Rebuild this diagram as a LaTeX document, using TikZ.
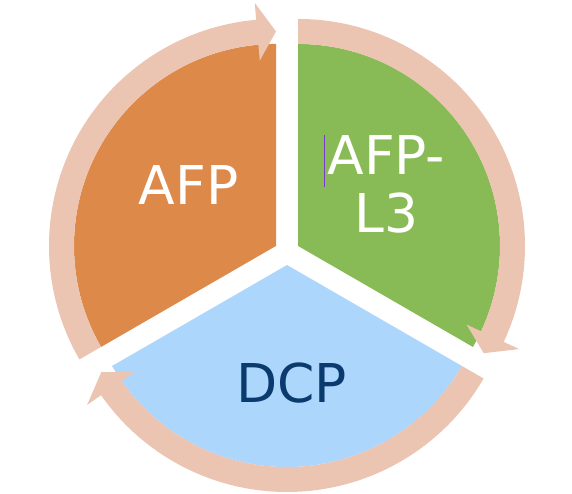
\documentclass[tikz,border=0pt]{standalone}
\usepackage{fontspec}
\setmainfont{DejaVu Sans}
\definecolor{naranja}{RGB}{221,137,74}
\definecolor{verde}{RGB}{136,187,85}
\definecolor{celeste}{RGB}{173,214,252}
\definecolor{rosa}{RGB}{235,196,178}
\definecolor{azul}{RGB}{10,58,110}
\definecolor{cursor}{RGB}{120,60,200}

\begin{document}
\begin{tikzpicture}[x=1pt, y=1pt,
    flecha/.style={fill=rosa},
    rotulo/.style={inner sep=0pt, font=\fontsize{53.5}{58}\selectfont}]
  \useasboundingbox (-287,-241.7) rectangle (285,252.3);
  % sectores
  \fill[naranja, shift={(150:12.7pt)}] (0,0) -- (90:202pt)
        arc[start angle=90, end angle=210, radius=202pt] -- cycle;
  \fill[verde, shift={(30:12.7pt)}] (0,0) -- (90:202pt)
        arc[start angle=90, end angle=-30, radius=202pt] -- cycle;
  \fill[celeste, shift={(270:12.7pt)}] (0,0) -- (-30:202pt)
        arc[start angle=-30, end angle=-150, radius=202pt] -- cycle;
  % flecha AFP -> AFP-L3
  \fill[flecha, shift={(150:12.7pt)}] (210:202pt)
        arc[start angle=210, end angle=95, radius=202pt]
        -- (95:186pt) -- (90:214.5pt) -- (95:244pt) -- (95:227pt)
        arc[start angle=95, end angle=210, radius=227pt] -- cycle;
  % flecha AFP-L3 -> DCP
  \fill[flecha, shift={(30:12.7pt)}] (90:202pt)
        arc[start angle=90, end angle=-25, radius=202pt]
        -- (-25:186pt) -- (-30:214.5pt) -- (-25:244pt) -- (-25:227pt)
        arc[start angle=-25, end angle=90, radius=227pt] -- cycle;
  % flecha DCP -> AFP
  \fill[flecha, shift={(270:12.7pt)}] (-30:202pt)
        arc[start angle=-30, end angle=-145, radius=202pt]
        -- (-145:186pt) -- (-150:214.5pt) -- (-145:244pt) -- (-145:227pt)
        arc[start angle=-145, end angle=-30, radius=227pt] -- cycle;
  % rotulos
  \node[rotulo, text=white, anchor=base] (afp) at (-98.5,47.3) {AFP};
  \node[rotulo, text=white, align=center] (afpl3) at (99.3,67.8) {AFP-\\L3};
  \node[rotulo, text=azul, anchor=base] (dcp) at (4.8,-150.4) {DCP};
  \draw[cursor, line width=0.8pt] (37.3,117.3) -- (37.3,65.6);
\end{tikzpicture}
\end{document}
